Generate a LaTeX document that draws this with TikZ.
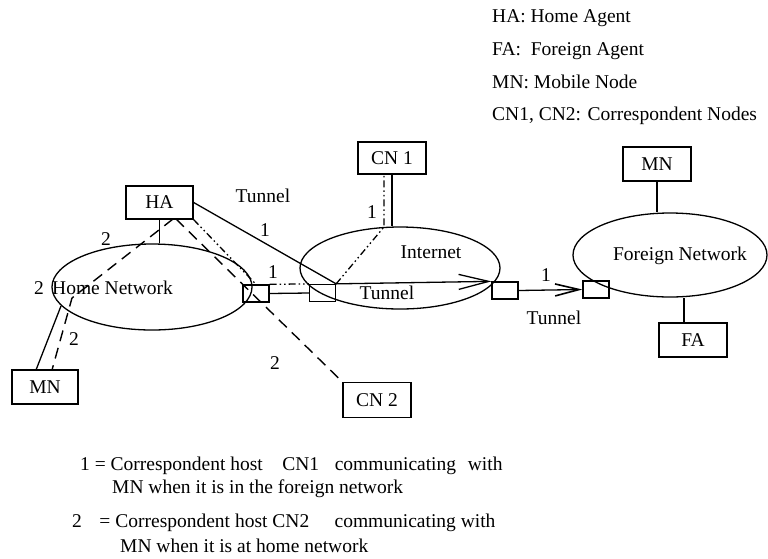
\documentclass[tikz,border=0pt]{standalone}
\usepackage{fontspec}
\setmainfont{Liberation Serif}
\usetikzlibrary{arrows.meta,shapes.geometric,calc}
\begin{document}
\begin{tikzpicture}[x=1pt,y=-1pt,
  every node/.style={font=\fontsize{19.5}{23}\selectfont, inner sep=0pt},
  box/.style={draw, line width=1.3pt, minimum width=68pt, minimum height=34pt},
  rtr/.style={draw, line width=1.3pt, minimum width=26pt, minimum height=17pt},
  net/.style={draw, ellipse, line width=1.3pt},
  link/.style={line width=1.3pt},
  hometrail/.style={line width=1.4pt, dash pattern=on 11pt off 7pt},
  cntrail/.style={line width=1.3pt, dash pattern=on 7pt off 3pt on 1.5pt off 3pt on 1.5pt off 3pt},
  bigbarb/.style={-{Straight Barb[length=30pt,width=15pt,line width=1.3pt]}},
  smallbarb/.style={-{Straight Barb[length=24pt,width=12pt,line width=1.6pt]}},
  ]
\useasboundingbox (0,0) rectangle (768,558);

% networks
\node[net, minimum width=200pt, minimum height=86pt] (home) at (152,287) {};
\node[net, minimum width=200pt, minimum height=82pt] (inet) at (400,268) {};
\node[net, minimum width=194pt, minimum height=84pt] (foreign) at (670,255) {};

% hosts and agents
\node[box, minimum width=67pt, minimum height=33pt] (HA) at (159.5,202.5) {HA};
\node[box, minimum height=32pt] (CN1) at (392,158) {CN 1};
\node[box] (MNf) at (657,164) {MN};
\node[box] (FA) at (693,340) {FA};
\node[box, minimum width=66pt] (MNh) at (45,387) {MN};
\node[box, minimum height=35pt] (CN2) at (377,400) {CN 2};

% routers
\node[rtr] (R1) at (256,293.5) {};
\node[rtr] (R2) at (322.5,293) {};
\node[rtr] (R3) at (505,290.5) {};
\node[rtr] (R4) at (596,289.5) {};

% helper points
\coordinate (inettop) at (384,227);
\coordinate (homeedge) at (61,306);
\coordinate (mnhtop) at (36,370);
\coordinate (hasw) at (173,219);
\coordinate (bend) at (72,298);
\coordinate (mnhdash) at (52,370);
\coordinate (hacn) at (176,219);
\coordinate (fatop) at ($(FA.north)+(-9,0)$);

% plain links
\draw[link] (HA.south) -- (HA.south |- home.north);
\draw[link] (MNf.south) -- (MNf.south |- foreign.north);
\draw[link] (fatop) -- (fatop |- foreign.south);
\draw[link] (CN1.south) -- (CN1.south |- inet.north);
\draw[link] (homeedge) -- (mnhtop);
\draw[link] (R1.east) -- (R2.west);

% tunnel from HA
\draw[link] (HA.east) -- (R2.north east);
\draw[link, bigbarb] (R2.north east) -- (R3.north west);
\draw[link, smallbarb] (R3.east) -- (R4.west);

% path 1: CN1 towards the mobile node
\draw[cntrail] (HA.south east) -- (R1.north);
\draw[cntrail] (R1.north east) -- (R2.north west);
\draw[cntrail] (R2.north east) -- (inettop) -- (CN1.south -| inettop);

% path 2: CN2 towards the mobile node at home
\draw[hometrail] (hasw) -- (bend) -- (mnhdash);
\draw[hometrail] (hacn) -- (CN2.north west);

% labels
\node (tun1) at (263,196) {Tunnel};
\node (one1) at (265,230) {1};
\node (one2) at (273,272) {1};
\node (one3) at (372,212) {1};
\node (tun2) at (387,293) {Tunnel};
\node (inetlbl) at (431,252) {Internet};
\node (one4) at (546,275) {1};
\node (tun3) at (554,318) {Tunnel};
\node (fnlbl) at (680,256) {Foreign Network};
\node (two1) at (106,239) {2};
\node (two2) at (39,288) {2};
\node[anchor=west] (hnlbl) at (52,288) {Home Network};
\node (two3) at (74,339) {2};
\node (two4) at (275,363) {2};

% abbreviations
\node[anchor=base west] (abbr1) at (492,22) {HA: Home Agent};
\node[anchor=base west] (abbr2) at (492,55) {FA:\hspace{0.5em}Foreign Agent};
\node[anchor=base west] (abbr3) at (492,88) {MN: Mobile Node};
\node[anchor=base west] (abbr4) at (492,120) {CN1, CN2: Correspondent Nodes};

% key to the numbered paths
\node[anchor=base west] (key1) at (80,470) {1 = Correspondent host\hspace{1em}CN1\hspace{0.8em}communicating\hspace{0.6em}with};
\node[anchor=base west] (key2) at (112,493) {MN when it is in the foreign network};
\node[anchor=base west] (key3) at (72,527) {2\hspace{0.9em}= Correspondent host CN2\hspace{1.3em}communicating with};
\node[anchor=base west] (key4) at (120,552) {MN when it is at home network};
\end{tikzpicture}
\end{document}
